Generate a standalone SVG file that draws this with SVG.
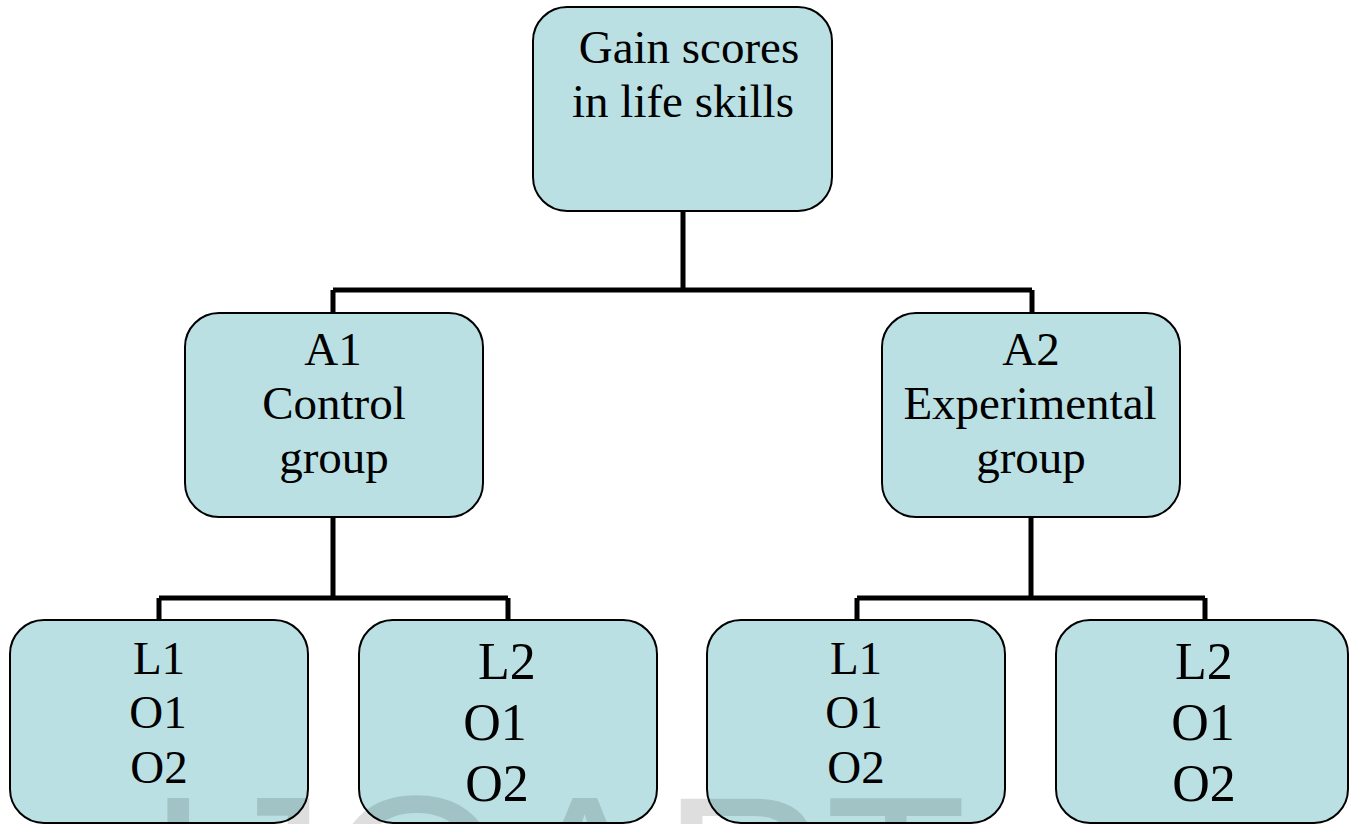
<svg xmlns="http://www.w3.org/2000/svg" width="1350" height="824" viewBox="0 0 1350 824">
<style>
.box{fill:#bbe0e3;stroke:#000;stroke-width:2}
.t{font-family:"Liberation Serif","Times New Roman",serif;fill:#000;text-anchor:middle}
.m{font-size:47px}
.b{font-size:52px}
.conn{fill:none;stroke:#000;stroke-width:5;stroke-linejoin:miter;stroke-linecap:butt}
.wm{font-family:"Liberation Sans",Arial,sans-serif;font-size:232px;fill:#000;fill-opacity:0.13}
</style>
<rect width="1350" height="824" fill="#fff"/>
<g id="connectors">
<path class="conn" d="M683,211 V290 M333,290 H1032 M333,290 V313 M1032,290 V313"/>
<path class="conn" d="M333,517 V598 M159,598 H508 M159,598 V620 M508,598 V620"/>
<path class="conn" d="M1031,517 V598 M857,598 H1205 M857,598 V620 M1205,598 V620"/>
</g>
<g id="root">
<rect class="box" x="533" y="7" width="299" height="204" rx="34"/>
<text class="t m" x="689" y="63">Gain scores</text>
<text class="t m" x="683" y="117">in life skills</text>
</g>
<g id="a1">
<rect class="box" x="185" y="313" width="298" height="204" rx="34"/>
<text class="t m" x="333" y="365">A1</text>
<text class="t m" x="334" y="419">Control</text>
<text class="t m" x="334" y="473">group</text>
</g>
<g id="a2">
<rect class="box" x="882" y="313" width="298" height="204" rx="34"/>
<text class="t m" x="1031" y="365">A2</text>
<text class="t m" x="1030" y="419">Experimental</text>
<text class="t m" x="1031" y="473">group</text>
</g>
<g id="a1-l1">
<rect class="box" x="10" y="620" width="298" height="203" rx="34"/>
<text class="t m" x="159" y="674">L1</text>
<text class="t m" x="158" y="728">O1</text>
<text class="t m" x="159" y="783">O2</text>
</g>
<g id="a1-l2">
<rect class="box" x="359" y="620" width="298" height="203" rx="34"/>
<text class="t b" x="507" y="679">L2</text>
<text class="t b" x="495" y="740">O1</text>
<text class="t b" x="497" y="801">O2</text>
</g>
<g id="a2-l1">
<rect class="box" x="707" y="620" width="298" height="203" rx="34"/>
<text class="t m" x="856" y="674">L1</text>
<text class="t m" x="854" y="728">O1</text>
<text class="t m" x="856" y="783">O2</text>
</g>
<g id="a2-l2">
<rect class="box" x="1056" y="620" width="292" height="203" rx="34"/>
<text class="t b" x="1204" y="679">L2</text>
<text class="t b" x="1203" y="740">O1</text>
<text class="t b" x="1204" y="801">O2</text>
</g>
<text class="wm" x="146" y="958">IJOART</text>
</svg>
